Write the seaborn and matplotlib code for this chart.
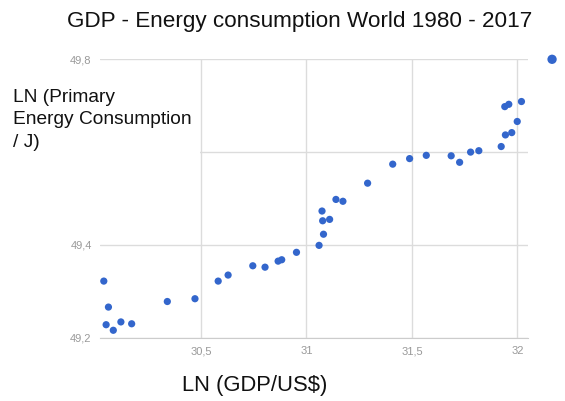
import numpy as np
import pandas as pd
import matplotlib
matplotlib.use("Agg")
import matplotlib.pyplot as plt
import seaborn as sns

# valeurs (1980 - 2017)
ln_gdp = [30.040, 30.062, 30.051, 30.085, 30.121, 30.172, 30.341, 30.472,
          30.582, 30.629, 30.746, 30.804, 30.866, 30.883, 30.953, 31.060,
          31.081, 31.077, 31.110, 31.074, 31.140, 31.173, 31.290, 31.409,
          31.489, 31.568, 31.686, 31.726, 31.778, 31.817, 31.923, 31.943,
          31.973, 31.999, 31.940, 31.959, 32.019, 32.164]
ln_energy = [49.322, 49.266, 49.228, 49.216, 49.234, 49.230, 49.278, 49.284,
             49.322, 49.335, 49.355, 49.352, 49.365, 49.368, 49.384, 49.399,
             49.423, 49.452, 49.455, 49.473, 49.498, 49.494, 49.533, 49.574,
             49.586, 49.593, 49.592, 49.578, 49.600, 49.603, 49.612, 49.637,
             49.642, 49.666, 49.698, 49.703, 49.709, 49.800]

x_ticks = [30.5, 31, 31.5, 32]
x_labels = ["30,5", "31", "31,5", "32"]
y_ticks = [49.2, 49.4, 49.6, 49.8]
y_labels = ["49,2", "49,4", "49,6", "49,8"]

titre = "GDP - Energy consumption World 1980 - 2017"
label_x = "LN (GDP/US$)"
label_y = "LN (Primary\nEnergy Consumption\n/ J)"

data = pd.DataFrame({"gdp": ln_gdp, "energy": ln_energy})

sns.set_style("white")
plt.rcParams["font.family"] = ["Liberation Sans", "DejaVu Sans"]

fig = plt.figure(figsize=(5.65, 4.01), dpi=100)
ax = fig.add_axes([100 / 565, 1 - 337.7 / 401, 428 / 565, 278.4 / 401])

bleu = "#3366cc"
sns.scatterplot(data=data.iloc[:-1], x="gdp", y="energy", ax=ax, color=bleu,
                s=27, edgecolor="none", clip_on=False, zorder=3)
# le dernier point est dessine plus gros, hors de la zone
sns.scatterplot(data=data.iloc[-1:], x="gdp", y="energy", ax=ax, color=bleu,
                s=45, edgecolor="none", clip_on=False, zorder=3)

ax.set_xlim(30.022, 32.05)
ax.set_ylim(49.2, 49.8)
ax.set_xticks(x_ticks)
ax.set_xticklabels(x_labels)
ax.set_yticks(y_ticks)
ax.set_yticklabels(y_labels)
ax.grid(True, color="#dcdcdc", linewidth=1)
ax.set_axisbelow(True)
for s in ["top", "right", "left"]:
    ax.spines[s].set_visible(False)
ax.spines["bottom"].set_color("#cccccc")
ax.tick_params(axis="both", length=0, labelsize=8, labelcolor="#999999", pad=6)
ax.set_xlabel("")
ax.set_ylabel("")

fig.text(300 / 565, 1 - 21 / 401, titre, ha="center", va="center",
         fontsize=16.2, color="#111111")
fig.text(255 / 565, 1 - 385 / 401, label_x, ha="center", va="center",
         fontsize=15.8, color="#111111")
# le titre de l'axe y cache le label 49,6 (comme sur l'original)
fig.text(13 / 565, 1 - 120 / 401, label_y, ha="left", va="center", fontsize=13.8,
         linespacing=1.45, color="#111111",
         bbox=dict(facecolor="white", edgecolor="none", pad=6))

fig.savefig("out.png", dpi=100)
